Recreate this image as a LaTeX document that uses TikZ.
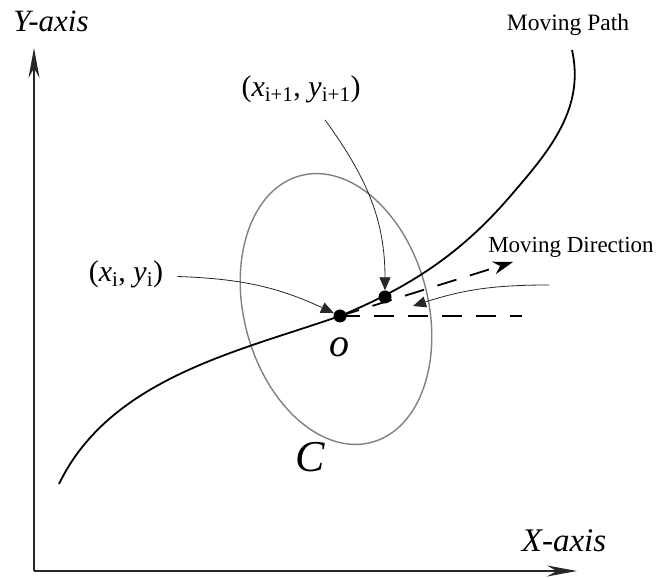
\documentclass[tikz,border=0pt]{standalone}
\usepackage{fontspec}
\setmainfont{Liberation Serif}
\usetikzlibrary{arrows.meta}

\begin{document}
\begin{tikzpicture}[x=1pt, y=1pt,
    axis/.style={line width=1.6pt, draw=black!85, -{Stealth[length=30pt, width=11pt]}},
    path line/.style={line width=1.8pt},
    ring/.style={line width=1.4pt, draw=black!50},
    pointer/.style={line width=0.8pt, draw=black!85, -{Triangle[length=13pt, width=11pt]}},
    dot/.style={circle, fill, inner sep=0pt, minimum size=13pt},
    guide/.style={line width=1.8pt, dash pattern=on 20pt off 14pt},
    lbl/.style={inner sep=2pt}]
	\useasboundingbox (0,0) rectangle (659,578);
	
	% axes
	\coordinate (orig) at (34,7);
	\coordinate (ytip) at (34,530);
	\coordinate (xtip) at (577,7);
	\draw[axis] (orig) -- (ytip);
	\draw[axis] (orig) -- (xtip);
	\node[lbl] (ylab) at (51,557) {\fontsize{31}{31}\selectfont\itshape Y-axis};
	\node[lbl] (xlab) at (564,37) {\fontsize{33}{33}\selectfont\itshape X-axis};
	
	% search ellipse C
	\draw[ring, shift={(336,269)}, rotate=15] (0,0) ellipse [x radius=92pt, y radius=138pt];
	\node[lbl] (clab) at (310,121) {\fontsize{44}{44}\selectfont\itshape C};
	
	% moving path
	\draw[path line] (59,94) .. controls (110,200) and (240,227) .. (340,262)
		.. controls (420,295) and (468,332) .. (513,385)
		.. controls (550,428) and (585,470) .. (572,528);
	\node[lbl] (pathlab) at (568,553) {\fontsize{23.5}{23.5}\selectfont Moving Path};
	
	% points on the path
	\node[dot] (O) at (340,262) {};
	\node[dot] (P) at (385,281) {};
	\node[lbl] (olab) at (339,231) {\fontsize{40}{40}\selectfont\itshape o};
	
	% direction and reference lines
	\coordinate (hend) at (522,262);
	\coordinate (dirtip) at (513,316);
	\draw[guide] (O.center) -- (hend);
	\draw[guide, -{Stealth[length=20pt, width=13pt]}] (O.center) -- (dirtip);
	\node[lbl] (dirlab) at (571,330.5) {\fontsize{23}{23}\selectfont Moving Direction};
	
	% angle pointer
	\coordinate (arcstart) at (549,293);
	\coordinate (arctip) at (413,272);
	\draw[pointer] (arcstart) to[out=180, in=18] (arctip);
	
	% point labels
	\node[lbl] (pi) at (126,303.5) {\fontsize{30}{30}\selectfont(\textit{x}\textsubscript{i}, \textit{y}\textsubscript{i})};
	\node[lbl] (pn) at (301,489) {\fontsize{30}{30}\selectfont(\textit{x}\textsubscript{i+1}, \textit{y}\textsubscript{i+1})};
	\draw[pointer] ([xshift=12pt, yshift=-2pt]pi.east) to[out=-2, in=155] (O);
	\draw[pointer] ([xshift=24pt, yshift=-15pt]pn.south) to[out=-54, in=90] (P);
\end{tikzpicture}
\end{document}
